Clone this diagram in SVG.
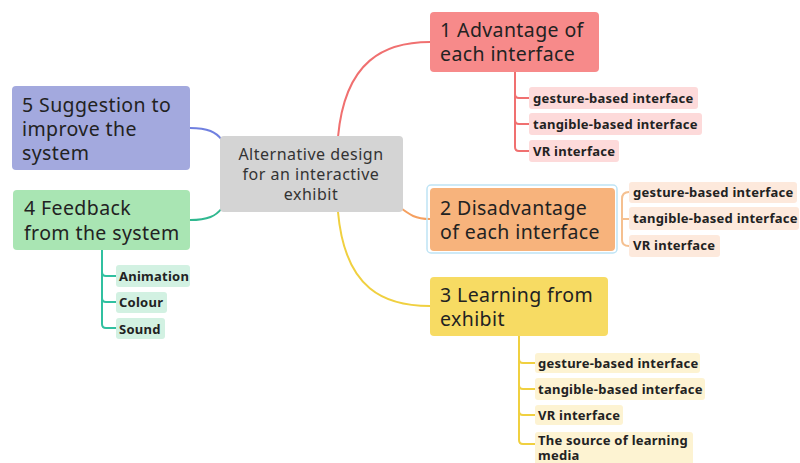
<svg xmlns="http://www.w3.org/2000/svg" width="800" height="463" viewBox="0 0 800 463">
<style>
.main{font-family:"Noto Sans","Liberation Sans",sans-serif;font-size:19.5px;letter-spacing:0.4px;fill:#222}
.ctr{font-family:"Noto Sans","Liberation Sans",sans-serif;font-size:16px;letter-spacing:0.5px;fill:#333;text-anchor:middle}
.sub{font-family:"Noto Sans","Liberation Sans",sans-serif;font-size:13px;letter-spacing:0.25px;font-weight:bold;fill:#222}
.ln{fill:none;stroke-width:2}
</style>
<rect width="800" height="463" fill="#fff"/>
<g id="connectors">
<path class="ln" stroke="#f07070" d="M338 137 C345 60 385 42 430 42"/>
<path class="ln" stroke="#f5a060" d="M398 206 C410 215 415 219 430 219"/>
<path class="ln" stroke="#f0d040" d="M338 212 C345 290 385 306 430 306"/>
<path class="ln" stroke="#7080e0" d="M190 128 C208 128 216 132 222 140"/>
<path class="ln" stroke="#30b890" d="M190 220 C208 220 216 216 222 208"/>
<path class="ln" stroke="#f07070" d="M515 72 V147 Q515 151 519 151 H529 M515 94 Q515 98 519 98 H529 M515 120 Q515 124 519 124 H529"/>
<path class="ln" stroke="#f5c090" stroke-width="1.5" d="M629 192 Q622 192 622 199 V240 Q622 246 629 246 M622 219 H629"/>
<path class="ln" stroke="#f0d040" d="M519 336 V440 Q519 444 523 444 H535 M519 359 Q519 363 523 363 H535 M519 385 Q519 389 523 389 H535 M519 411 Q519 415 523 415 H535"/>
<path class="ln" stroke="#30c0a0" d="M102 250 V324 Q102 328 106 328 H116 M102 272 Q102 276 106 276 H116 M102 298 Q102 302 106 302 H116"/>
</g>
<g id="center"><rect x="220" y="136" width="183" height="76" rx="4" fill="#d4d4d4"/>
<text class="ctr" x="311" y="160">Alternative design</text><text class="ctr" x="311" y="180">for an interactive</text><text class="ctr" x="311" y="200">exhibit</text></g>
<g id="n1"><rect x="430" y="12" width="169" height="60" rx="4" fill="#f78a8a"/>
<text class="main" x="440" y="37">1 Advantage of</text><text class="main" x="440" y="61">each interface</text></g>
<g id="n1a"><rect x="529" y="87" width="169" height="22" rx="3" fill="#fddada"/><text class="sub" x="533" y="103">gesture-based interface</text></g>
<g id="n1b"><rect x="529" y="113" width="173" height="22" rx="3" fill="#fddada"/><text class="sub" x="533" y="129">tangible-based interface</text></g>
<g id="n1c"><rect x="529" y="140" width="90" height="22" rx="3" fill="#fddada"/><text class="sub" x="533" y="156">VR interface</text></g>
<g id="n2"><rect x="427" y="185" width="190" height="68" rx="4" fill="none" stroke="#bfe4f5" stroke-width="1.5"/><rect x="430" y="188" width="185" height="63" rx="4" fill="#f7b37c"/>
<text class="main" x="440" y="215">2 Disadvantage</text><text class="main" x="440" y="239">of each interface</text></g>
<g id="n2a"><rect x="629" y="182" width="168" height="21" rx="3" fill="#fde9dc"/><text class="sub" x="633" y="197">gesture-based interface</text></g>
<g id="n2b"><rect x="629" y="207" width="170" height="23" rx="3" fill="#fde9dc"/><text class="sub" x="633" y="223">tangible-based interface</text></g>
<g id="n2c"><rect x="629" y="235" width="91" height="22" rx="3" fill="#fde9dc"/><text class="sub" x="633" y="250">VR interface</text></g>
<g id="n3"><rect x="430" y="277" width="178" height="59" rx="4" fill="#f7db63"/>
<text class="main" x="440" y="302">3 Learning from</text><text class="main" x="440" y="326">exhibit</text></g>
<g id="n3a"><rect x="535" y="353" width="165" height="20" rx="3" fill="#fdf3d2"/><text class="sub" x="538" y="368">gesture-based interface</text></g>
<g id="n3b"><rect x="535" y="378" width="170" height="22" rx="3" fill="#fdf3d2"/><text class="sub" x="538" y="394">tangible-based interface</text></g>
<g id="n3c"><rect x="535" y="405" width="88" height="20" rx="3" fill="#fdf3d2"/><text class="sub" x="538" y="420">VR interface</text></g>
<g id="n3d"><rect x="535" y="432" width="158" height="40" rx="3" fill="#fdf3d2"/><text class="sub" x="538" y="445">The source of learning</text><text class="sub" x="538" y="460">media</text></g>
<g id="n5"><rect x="12" y="86" width="178" height="84" rx="4" fill="#a3a9de"/>
<text class="main" x="22" y="112">5 Suggestion to</text><text class="main" x="22" y="136">improve the</text><text class="main" x="22" y="160">system</text></g>
<g id="n4"><rect x="13" y="190" width="177" height="60" rx="4" fill="#a9e5b3"/>
<text class="main" x="24" y="215">4 Feedback</text><text class="main" x="24" y="240">from the system</text></g>
<g id="n4a"><rect x="116" y="265" width="74" height="22" rx="3" fill="#d2f1e2"/><text class="sub" x="119" y="281">Animation</text></g>
<g id="n4b"><rect x="116" y="292" width="51" height="21" rx="3" fill="#d2f1e2"/><text class="sub" x="119" y="307">Colour</text></g>
<g id="n4c"><rect x="116" y="318" width="49" height="21" rx="3" fill="#d2f1e2"/><text class="sub" x="119" y="334">Sound</text></g>
</svg>
